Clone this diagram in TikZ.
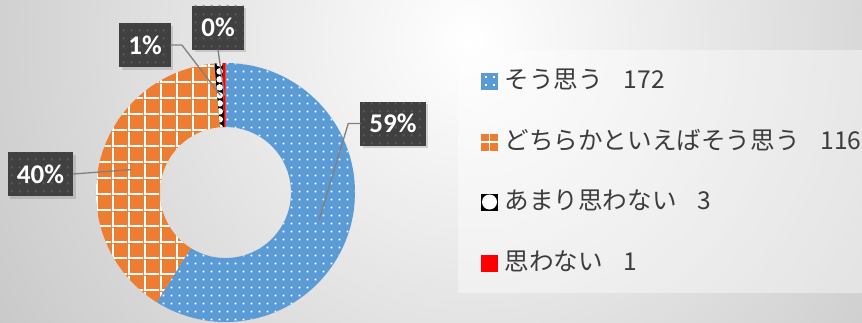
\documentclass[tikz,border=0pt]{standalone}
\usepackage{fontspec}
\setmainfont{Carlito}
\newfontfamily\jpfont{Noto Sans CJK JP}
\usetikzlibrary{positioning,patterns.meta,shadows}
\definecolor{soublue}{RGB}{91,155,213}
\definecolor{douorange}{RGB}{237,125,49}
\definecolor{lbldark}{RGB}{64,64,64}
\definecolor{lbldot}{RGB}{88,88,88}
\definecolor{leadgray}{RGB}{128,128,128}
\definecolor{legtext}{RGB}{60,60,60}
\definecolor{bgedge}{RGB}{200,200,200}
\definecolor{omowared}{RGB}{255,0,0}
% mau hoa van
\tikzdeclarepattern{name=smalldots,type=uncolored,bounding box={(0pt,0pt) and (8pt,8pt)},tile size={(8pt,8pt)},
  code={\fill (3pt,3pt) rectangle (5pt,5pt);}}
\tikzdeclarepattern{name=biggrid,type=uncolored,bounding box={(0pt,0pt) and (16pt,16pt)},tile size={(16pt,16pt)},
  code={\fill (0pt,0pt) rectangle (16pt,2pt); \fill (0pt,0pt) rectangle (2pt,16pt);}}
\tikzdeclarepattern{name=bigconfetti,type=uncolored,bounding box={(0pt,0pt) and (8pt,8pt)},tile size={(8pt,8pt)},
  code={\fill (4pt,4pt) circle (3.6pt);}}
\begin{document}
\begin{tikzpicture}[x=1pt,y=1pt,line join=round,line cap=round,
	sliceA/.style={fill=soublue,postaction={pattern=smalldots,pattern color=white}},
	sliceB/.style={fill=douorange,postaction={pattern=biggrid,pattern color=white}},
	sliceC/.style={fill=black,postaction={pattern=bigconfetti,pattern color=white}},
	sliceD/.style={fill=omowared},
	pct/.style={fill=lbldark,text=white,font=\bfseries\fontsize{27}{27}\selectfont,inner xsep=9pt,minimum height=44pt,
		drop shadow={shadow xshift=2.5pt,shadow yshift=-2.5pt,opacity=.3},postaction={pattern=smalldots,pattern color=lbldot}},
	leader/.style={leadgray,line width=1.3pt},
	legmark/.style={minimum size=17pt,inner sep=0pt},
	legtxt/.style={font=\jpfont\fontsize{24.6}{28}\selectfont,text=legtext,inner sep=0pt,text height=19pt,text depth=4pt}]
	\useasboundingbox (0,0) rectangle (862,-322);
	%Nen
	\fill[bgedge] (0,0) rectangle (862,-322);
	\begin{scope}
		\clip (0,0) rectangle (862,-322);
		\shade[inner color=white,outer color=bgedge] (470,-40) circle (560);
	\end{scope}
	\fill[white,opacity=.4] (458,-50) rectangle (862,-293);
	%Vanh khuyen
	\coordinate (c) at (225.5,-192.5);
	\fill[sliceA] (c) ++(90:129.5) arc[start angle=90,end angle=-122.055,radius=129.5] -- ++(-122.055:-64) arc[start angle=-122.055,end angle=90,radius=65.5] -- cycle;
	\fill[sliceB] (c) ++(-122.055:129.5) arc[start angle=-122.055,end angle=-265.068,radius=129.5] -- ++(-265.068:-64) arc[start angle=-265.068,end angle=-122.055,radius=65.5] -- cycle;
	\fill[sliceC] (c) ++(-265.068:129.5) arc[start angle=-265.068,end angle=-268.767,radius=129.5] -- ++(-268.767:-64) arc[start angle=-268.767,end angle=-265.068,radius=65.5] -- cycle;
	\fill[sliceD] (c) ++(-268.767:129.5) arc[start angle=-268.767,end angle=-270,radius=129.5] -- ++(-270:-64) arc[start angle=-270,end angle=-268.767,radius=65.5] -- cycle;
	%Nhan phan tram
	\path (c) ++(-16.03:97.5) coordinate (t59) (c) ++(-193.56:97.5) coordinate (t40)
		(c) ++(-266.92:97.5) coordinate (t1) (c) ++(-269.38:97.5) coordinate (t0);
	\node[pct] (n59) at (393,-123.5) {59\%};
	\node[pct] (n40) at (40.5,-174) {40\%};
	\node[pct] (n1) at (145,-45) {1\%};
	\node[pct] (n0) at (218,-27.5) {0\%};
	\draw[leader] (n59.west) -- ++(-12,0) -- (t59);
	\draw[leader] (n40.east) -- (t40);
	\draw[leader] (n1.east) -- ++(11,0) -- (t1);
	\draw[leader] (n0.south) -- (t0);
	%Chu giai
	\node[legmark,fill=soublue,path picture={\foreach \dx in {-4,4}\foreach \dy in {-4,4}
		\fill[white] ([shift={(\dx-1,\dy-1)}]path picture bounding box.center) rectangle ++(2,2);}] (m1) at (489.5,-81) {};
	\node[legmark,fill=douorange,path picture={\draw[white,line width=1.8pt] (path picture bounding box.north) -- (path picture bounding box.south)
		(path picture bounding box.west) -- (path picture bounding box.east);}] (m2) at (489.5,-142) {};
	\node[legmark,fill=black,path picture={\fill[white] (path picture bounding box.center) circle (7.5);}] (m3) at (489.5,-202) {};
	\node[legmark,fill=omowared] (m4) at (489.5,-263) {};
	\node[legtxt,right=6pt of m1] (l1) {そう思う\hspace{0.85em}172};
	\node[legtxt,right=6pt of m2] (l2) {どちらかといえばそう思う\hspace{0.85em}116};
	\node[legtxt,right=6pt of m3] (l3) {あまり思わない\hspace{0.85em}3};
	\node[legtxt,right=6pt of m4] (l4) {思わない\hspace{0.85em}1};
\end{tikzpicture}
\end{document}
